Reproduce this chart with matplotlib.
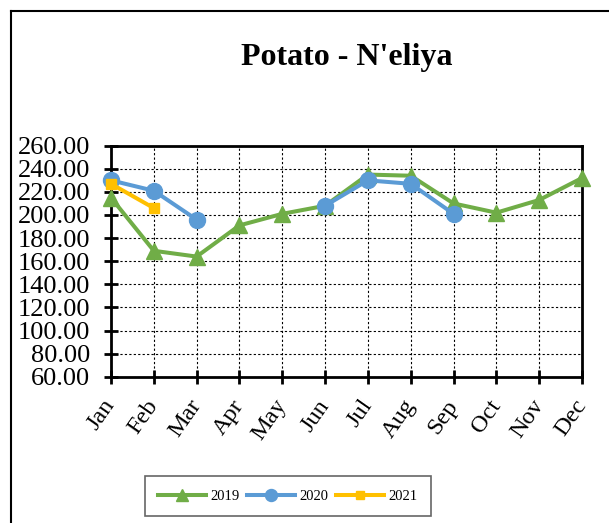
import numpy as np
import matplotlib
matplotlib.use('Agg')
import matplotlib.pyplot as plt
from matplotlib.lines import Line2D

months = ['Jan', 'Feb', 'Mar', 'Apr', 'May', 'Jun',
          'Jul', 'Aug', 'Sep', 'Oct', 'Nov', 'Dec']
nan = np.nan
price_2019 = [215, 169, 164, 191, 201, 208, 235, 234, 210, 202, 213, 232]
price_2020 = [230, 221, 196, nan, nan, 208, 230, 227, 201, nan, nan, nan]
price_2021 = [227, 206, nan, nan, nan, nan, nan, nan, nan, nan, nan, nan]
yticks = np.arange(60, 261, 20)

plt.rcParams['font.family'] = ['Liberation Serif', 'DejaVu Serif']

W, H = 609, 523
fig = plt.figure(figsize=(W / 100, H / 100), dpi=100)
ax = fig.add_axes([111 / W, 1 - 376.7 / H, (582 - 111) / W, (376.7 - 145.7) / H])

x = np.arange(len(months))
ax.plot(x, price_2019, color='#70AD47', lw=2.9, marker='^', ms=11,
        label='2019', zorder=3, clip_on=False)
ax.plot(x, price_2020, color='#5B9BD5', lw=2.9, marker='o', ms=11.5,
        label='2020', zorder=4, clip_on=False)
ax.plot(x, price_2021, color='#FFC000', lw=2.9, marker='s', ms=7,
        label='2021', zorder=5, clip_on=False)

ax.set_xlim(0, 11)
ax.set_ylim(60, 260)
ax.set_yticks(yticks)
ax.set_yticklabels(['{:.2f}'.format(v) for v in yticks], fontsize=19)
ax.set_xticks(x)
ax.set_xticklabels(months, fontsize=17.5, rotation=55, ha='right',
                   va='center', rotation_mode='anchor')
ax.tick_params(axis='both', direction='inout', length=10, width=2,
               color='black')
ax.tick_params(axis='y', pad=10)
ax.tick_params(axis='x', pad=13)
ax.grid(True, color='black', linestyle=(0, (2, 2)), linewidth=0.8)
for s in ax.spines.values():
    s.set_linewidth(2)

fig.text(347 / W, 1 - 58 / H, "Potato - N'eliya", fontsize=23,
         fontweight='bold', ha='center', va='center')

leg = fig.legend(loc='center', bbox_to_anchor=(288 / W, 1 - 496 / H),
                 ncol=3, fontsize=10.5, frameon=True, fancybox=False,
                 markerscale=0.75, handlelength=3.3, columnspacing=0.5,
                 handletextpad=0.3, borderpad=0.9)
leg.get_frame().set_edgecolor('#404040')
leg.get_frame().set_linewidth(1.2)

# outer chart border (left and top visible)
fig.add_artist(Line2D([11 / W, 11 / W], [0, 1 - 11 / H],
                      transform=fig.transFigure, color='black', lw=1.5))
fig.add_artist(Line2D([11 / W, 1], [1 - 11 / H, 1 - 11 / H],
                      transform=fig.transFigure, color='black', lw=1.5))

fig.savefig('out.png', dpi=100)
